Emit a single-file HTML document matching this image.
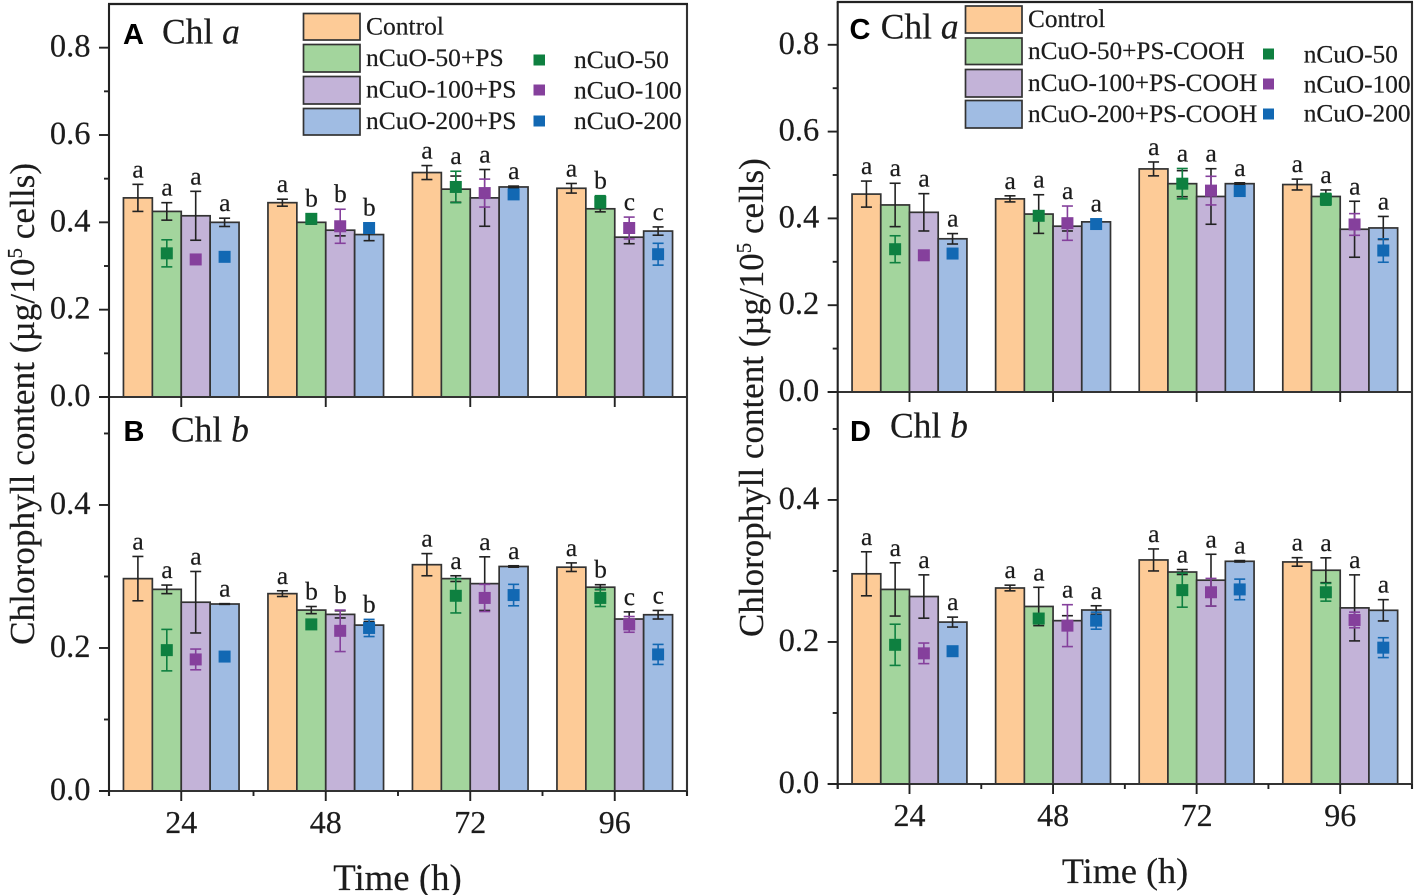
<!DOCTYPE html>
<html lang="en">
<head>
<meta charset="utf-8">
<title>Chlorophyll content over time</title>
<style>
html,body{margin:0;padding:0;background:#fff;}
svg{display:block;}
text{font-family:"Liberation Serif",serif;fill:#1c1c1c;stroke:#1c1c1c;stroke-width:0.2px;}
.leg{font-size:25.5px;}
.legr{font-size:25.3px;}
.ttl{font-size:35.5px;}
.pl{font-family:"Liberation Sans",sans-serif;font-weight:bold;font-size:29px;fill:#000;stroke:none;}
.sw{stroke:#333;stroke-width:1.7;}
</style>
</head>
<body>
<svg id="chart" xmlns="http://www.w3.org/2000/svg" width="1417" height="895" viewBox="0 0 1417 895">
  <rect x="0" y="0" width="1417" height="895" fill="#fff"/>

  <g id="plots"></g>

  <text font-size="35.25" transform="translate(34,645) rotate(-90)">Chlorophyll content (µg/10<tspan dy="-12" font-size="21">5</tspan><tspan dy="12"> cells)</tspan></text>
  <text font-size="35" transform="translate(763,637) rotate(-90)">Chlorophyll content (µg/10<tspan dy="-12" font-size="21">5</tspan><tspan dy="12"> cells)</tspan></text>
  <text x="397.5" y="890" text-anchor="middle" font-size="36.8">Time (h)</text>
  <text x="1125" y="883" text-anchor="middle" font-size="36.2">Time (h)</text>

  <text class="pl" x="123" y="44">A</text>
  <text class="ttl" x="162" y="43.5">Chl <tspan font-style="italic">a</tspan></text>
  <text class="pl" x="123.5" y="441">B</text>
  <text class="ttl" x="171" y="441.7">Chl <tspan font-style="italic">b</tspan></text>
  <text class="pl" x="849.5" y="39">C</text>
  <text class="ttl" x="880.7" y="38.5">Chl <tspan font-style="italic">a</tspan></text>
  <text class="pl" x="850" y="441">D</text>
  <text class="ttl" x="890" y="437.7">Chl <tspan font-style="italic">b</tspan></text>

  <g>
    <rect class="sw" x="303.5" y="13.5" width="56.5" height="26.5" fill="#FDCB97"/>
    <rect class="sw" x="303.5" y="44.5" width="56.5" height="27.5" fill="#A3D59D"/>
    <rect class="sw" x="303.5" y="76.5" width="56.5" height="27.5" fill="#C3B3D8"/>
    <rect class="sw" x="303.5" y="108.5" width="56.5" height="26.5" fill="#A0BCE3"/>
    <text class="leg" x="366" y="34.5">Control</text>
    <text class="leg" x="366" y="66">nCuO-50+PS</text>
    <text class="leg" x="366" y="97.7">nCuO-100+PS</text>
    <text class="leg" x="366" y="129">nCuO-200+PS</text>
    <rect x="533.5" y="54.5" width="11.5" height="11" fill="#0E8040"/>
    <rect x="533.5" y="84.5" width="11.5" height="11" fill="#85409C"/>
    <rect x="533.5" y="115.5" width="11.5" height="11" fill="#1268B3"/>
    <text class="leg" x="574" y="68">nCuO-50</text>
    <text class="leg" x="574" y="98.3">nCuO-100</text>
    <text class="leg" x="574" y="129">nCuO-200</text>
  </g>

  <g>
    <rect class="sw" x="965.5" y="6" width="56.5" height="27" fill="#FDCB97"/>
    <rect class="sw" x="965.5" y="38" width="56.5" height="26.5" fill="#A3D59D"/>
    <rect class="sw" x="965.5" y="69.5" width="56.5" height="27.5" fill="#C3B3D8"/>
    <rect class="sw" x="965.5" y="100.5" width="56.5" height="27.5" fill="#A0BCE3"/>
    <text class="legr" x="1028" y="27">Control</text>
    <text class="legr" x="1028" y="59">nCuO-50+PS-COOH</text>
    <text class="legr" x="1028" y="91">nCuO-100+PS-COOH</text>
    <text class="legr" x="1028" y="122">nCuO-200+PS-COOH</text>
    <rect x="1263" y="48.5" width="11" height="11" fill="#0E8040"/>
    <rect x="1263" y="78.5" width="11" height="11" fill="#85409C"/>
    <rect x="1263" y="108.5" width="11" height="11" fill="#1268B3"/>
    <text class="legr" x="1303.7" y="62.7">nCuO-50</text>
    <text class="legr" x="1303.7" y="92.3">nCuO-100</text>
    <text class="legr" x="1303.7" y="121.7">nCuO-200</text>
  </g>
</svg>

<script>
const categories = ['24', '48', '72', '96'];
const barSeries = ['control', 'ncuo-50-ps', 'ncuo-100-ps', 'ncuo-200-ps'];
const markerSeries = ['ncuo-50', 'ncuo-100', 'ncuo-200'];
const barColors = ['#FDCB97', '#A3D59D', '#C3B3D8', '#A0BCE3'];
const markerColors = ['#0E8040', '#85409C', '#1268B3'];
const ticksAC = ['0.0', '0.2', '0.4', '0.6', '0.8'];
const minorTicksAC = [0.1, 0.3, 0.5, 0.7];
const ticksBD = ['0.0', '0.2', '0.4'];
const minorTicksBD = [0.1, 0.3, 0.5];

/* Each inner row: one series across 24, 48, 72, 96 h */
const aBars = [[0.456, 0.445, 0.514, 0.478], [0.425, 0.400, 0.476, 0.431], [0.415, 0.382, 0.456, 0.366], [0.400, 0.372, 0.481, 0.380]];
const aBarErr = [[0.031, 0.008, 0.016, 0.011], [0.020, 0.004, 0.030, 0.007], [0.056, 0.013, 0.065, 0.015], [0.0095, 0.014, 0.002, 0.0095]];
const aDots = [[0.329, 0.408, 0.481, 0.447], [0.315, 0.391, 0.467, 0.387], [0.321, 0.387, 0.464, 0.327]];
const aDotErr = [[0.031, 0.004, 0.036, 0.014], [0.003, 0.039, 0.032, 0.025], [0.002, 0.005, 0.005, 0.025]];
const aLetters = [['a', 'a', 'a', 'a'], ['a', 'b', 'a', 'b'], ['a', 'b', 'a', 'c'], ['a', 'b', 'a', 'c']];

const bBars = [[0.297, 0.276, 0.3165, 0.313], [0.282, 0.253, 0.297, 0.285], [0.264, 0.247, 0.290, 0.2405], [0.2615, 0.232, 0.314, 0.2465]];
const bBarErr = [[0.031, 0.004, 0.0155, 0.006], [0.006, 0.005, 0.004, 0.0035], [0.043, 0.005, 0.0375, 0.010], [0.0005, 0.005, 0.001, 0.006]];
const bDots = [[0.197, 0.233, 0.273, 0.270], [0.184, 0.224, 0.270, 0.233], [0.188, 0.228, 0.274, 0.191]];
const bDotErr = [[0.029, 0.006, 0.024, 0.012], [0.0145, 0.029, 0.019, 0.011], [0.002, 0.012, 0.015, 0.014]];
const bLetters = [['a', 'a', 'a', 'a'], ['a', 'b', 'a', 'b'], ['a', 'b', 'a', 'c'], ['a', 'b', 'a', 'c']];

const cBars = [[0.456, 0.445, 0.514, 0.478], [0.431, 0.410, 0.480, 0.4505], [0.414, 0.382, 0.4505, 0.375], [0.353, 0.392, 0.480, 0.378]];
const cBarErr = [[0.030, 0.007, 0.016, 0.0125], [0.050, 0.0445, 0.030, 0.015], [0.043, 0.011, 0.064, 0.0645], [0.012, 0.002, 0.002, 0.0265]];
const cDots = [[0.329, 0.406, 0.480, 0.444], [0.315, 0.389, 0.464, 0.386], [0.319, 0.387, 0.463, 0.326]];
const cDotErr = [[0.031, 0.005, 0.035, 0.0135], [0.003, 0.0395, 0.033, 0.025], [0.003, 0.004, 0.004, 0.027]];
const cLetters = [['a', 'a', 'a', 'a'], ['a', 'a', 'a', 'a'], ['a', 'a', 'a', 'a'], ['a', 'a', 'a', 'a']];

const dBars = [[0.296, 0.276, 0.3155, 0.3127], [0.274, 0.250, 0.2985, 0.301], [0.264, 0.230, 0.287, 0.248], [0.228, 0.245, 0.3136, 0.2446]];
const dBarErr = [[0.031, 0.004, 0.0155, 0.006], [0.0375, 0.027, 0.0035, 0.0175], [0.0305, 0.007, 0.0365, 0.0465], [0.007, 0.006, 0.001, 0.015]];
const dDots = [[0.196, 0.233, 0.273, 0.270], [0.184, 0.223, 0.270, 0.231], [0.187, 0.230, 0.274, 0.192]];
const dDotErr = [[0.029, 0.006, 0.024, 0.0125], [0.0145, 0.0295, 0.0195, 0.011], [0.002, 0.012, 0.0145, 0.014]];
const dLetters = [['a', 'a', 'a', 'a'], ['a', 'a', 'a', 'a'], ['a', 'a', 'a', 'a'], ['a', 'a', 'a', 'a']];

const NS = 'http://www.w3.org/2000/svg';
const root = document.getElementById('plots');

function make(tag, attrs, parent) {
  const n = document.createElementNS(NS, tag);
  for (const k in attrs) n.setAttribute(k, attrs[k]);
  parent.appendChild(n);
  return n;
}

function line(x1, y1, x2, y2, color, width, parent) {
  return make('line', { x1: x1, y1: y1, x2: x2, y2: y2, stroke: color, 'stroke-width': width }, parent);
}

function errorBar(x, yHi, yLo, color, width, parent, label) {
  const g = make('g', {}, parent);
  
  
  line(x, yHi, x, yLo, color, width, g);
  line(x - 5.5, yHi, x + 5.5, yHi, color, width, g);
  line(x - 5.5, yLo, x + 5.5, yLo, color, width, g);
}

function drawPanel(p) {
  const g = make('g', {}, root);
  
  

  const yScale = v => p.y0 - v * (p.y0 - p.yTop) / p.yMax;
  const band = (p.xRight - p.xLeft) / categories.length;
  const groupCenter = i => p.xLeft + band * (i + 0.5);
  const barW = band * 0.2;
  const barCenter = (i, s) => groupCenter(i) + (s - 1.5) * barW;

  /* bars */
  barSeries.forEach((name, s) => {
    categories.forEach((cat, i) => {
      const top = yScale(p.bars[s][i]);
      const r = make('rect', { x: barCenter(i, s) - barW / 2, y: top, width: barW, height: p.y0 - top, fill: barColors[s], stroke: '#333', 'stroke-width': 1.7 }, g);
      
      
    });
  });

  /* black error bars */
  barSeries.forEach((name, s) => {
    categories.forEach((cat, i) => {
      const v = p.bars[s][i], e = p.barErr[s][i];
      errorBar(barCenter(i, s), yScale(v + e), yScale(v - e), '#222', 1.6, g, 'bar-error-' + p.id + '-' + name + '-' + cat + 'h');
    });
  });

  /* markers with coloured error bars */
  markerSeries.forEach((name, m) => {
    categories.forEach((cat, i) => {
      const x = barCenter(i, m + 1);
      const v = p.dots[m][i], e = p.dotErr[m][i];
      errorBar(x, yScale(v + e), yScale(v - e), markerColors[m], 1.6, g, 'marker-error-' + p.id + '-' + name + '-' + cat + 'h');
      const d = make('rect', { x: x - 6, y: yScale(v) - 6, width: 12, height: 12, fill: markerColors[m] }, g);
      
      
    });
  });

  /* significance letters sit just above the highest mark in each slot */
  barSeries.forEach((name, s) => {
    categories.forEach((cat, i) => {
      let top = yScale(p.bars[s][i] + p.barErr[s][i]);
      if (s > 0) {
        const mv = p.dots[s - 1][i], me = p.dotErr[s - 1][i];
        top = Math.min(top, yScale(mv + me), yScale(mv) - 5.5);
      }
      const t = make('text', { x: barCenter(i, s) + 0.2, y: top - 7, 'text-anchor': 'middle', 'font-size': 25.5 }, g);
      t.textContent = p.letters[s][i];
      
      
    });
  });

  /* axes */
  const ax = make('g', {}, g);
  
  
  line(p.xLeft - 10, p.y0, p.xRight, p.y0, '#333', 2, ax);
  line(p.xLeft, p.yTop, p.xLeft, p.axisEnd, '#222', 2.1, ax);
  line(p.xRight, p.yTop, p.xRight, p.axisEnd, '#333', 2.1, ax);
  if (p.drawTop) line(p.xLeft - 1, p.yTop, p.xRight + 1, p.yTop, '#222', 2.3, ax);

  /* y ticks */
  p.ticks.forEach(label => {
    const y = yScale(parseFloat(label));
    line(p.xLeft - 10, y, p.xLeft, y, '#222', 1.9, ax);
    const t = make('text', { x: p.xLeft - 18.5, y: y + 9, 'text-anchor': 'end', 'font-size': 32.5 }, ax);
    t.textContent = label;
    
    
  });
  p.minor.forEach(v => {
    const y = yScale(v);
    line(p.xLeft - 5, y, p.xLeft, y, '#222', 1.9, ax);
  });

  /* x ticks */
  categories.forEach((cat, i) => {
    line(groupCenter(i), p.y0, groupCenter(i), p.y0 + 10, '#222', 1.9, ax);
    if (p.xLabels) {
      const t = make('text', { x: groupCenter(i), y: p.y0 + 42, 'text-anchor': 'middle', 'font-size': 32 }, ax);
      t.textContent = cat;
      
      
    }
  });
  if (p.xLabels) {
    for (let i = 0; i <= categories.length; i++) {
      const x = p.xLeft + band * i;
      line(x, p.y0, x, p.y0 + 5, '#222', 1.9, ax);
    }
  }
}

drawPanel({ id: 'a', xLeft: 109, xRight: 687, y0: 397, yTop: 4, yMax: 0.9, axisEnd: 397, drawTop: true, xLabels: false,
  ticks: ticksAC, minor: minorTicksAC, bars: aBars, barErr: aBarErr, dots: aDots, dotErr: aDotErr, letters: aLetters });
drawPanel({ id: 'b', xLeft: 109, xRight: 687, y0: 791, yTop: 397, yMax: 0.551, axisEnd: 796, drawTop: false, xLabels: true,
  ticks: ticksBD, minor: minorTicksBD, bars: bBars, barErr: bBarErr, dots: bDots, dotErr: bDotErr, letters: bLetters });
drawPanel({ id: 'c', xLeft: 837.7, xRight: 1412, y0: 392, yTop: 2, yMax: 0.8986, axisEnd: 392, drawTop: true, xLabels: false,
  ticks: ticksAC, minor: minorTicksAC, bars: cBars, barErr: cBarErr, dots: cDots, dotErr: cDotErr, letters: cLetters });
drawPanel({ id: 'd', xLeft: 837.7, xRight: 1412, y0: 784, yTop: 392, yMax: 0.552, axisEnd: 789, drawTop: false, xLabels: true,
  ticks: ticksBD, minor: minorTicksBD, bars: dBars, barErr: dBarErr, dots: dDots, dotErr: dDotErr, letters: dLetters });
</script>
</body>
</html>
